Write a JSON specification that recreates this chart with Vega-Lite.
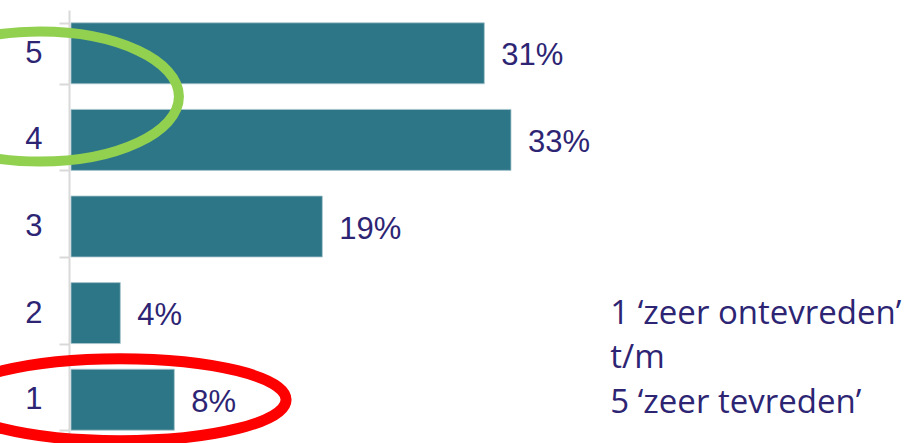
{
  "$schema": "https://vega.github.io/schema/vega-lite/v6.json",
  "width": 836,
  "height": 433,
  "autosize": {"type": "none"},
  "padding": {"left": 71, "top": 10, "right": 0, "bottom": 0},
  "background": "white",
  "config": {"view": {"stroke": null}, "font": "Liberation Sans"},
  "datasets": {
    "bars": [
      {"score": "5", "pct": 31.0, "label": "31%"},
      {"score": "4", "pct": 33.0, "label": "33%"},
      {"score": "3", "pct": 18.85, "label": "19%"},
      {"score": "2", "pct": 3.7, "label": "4%"},
      {"score": "1", "pct": 7.75, "label": "8%"}
    ],
    "marks": [
      {"name": "tevreden", "x": -2.33, "pos": 4.5},
      {"name": "ontevreden", "x": 3.68, "pos": 1.0}
    ],
    "legend": [
      {"line": "1 ‘zeer ontevreden’", "x": 40.45, "pos": 1.874},
      {"line": "t/m", "x": 40.45, "pos": 1.366},
      {"line": "5 ‘zeer tevreden’", "x": 40.45, "pos": 0.846}
    ]
  },
  "layer": [
    {
      "data": {"name": "bars"},
      "encoding": {
        "y": {
          "field": "score",
          "type": "nominal",
          "sort": ["5", "4", "3", "2", "1"],
          "scale": {"paddingInner": 0.296, "paddingOuter": 0.148},
          "axis": {
            "title": null,
            "offset": 2,
            "tickBand": "extent",
            "domainColor": "#D9D9D9",
            "domainWidth": 2,
            "tickColor": "#D9D9D9",
            "tickWidth": 2,
            "tickSize": 10,
            "labelPadding": 17,
            "labelFont": "Liberation Sans",
            "labelFontSize": 31,
            "labelColor": "#2D2573",
            "labelAngle": 0,
            "grid": false
          }
        },
        "x": {
          "field": "pct",
          "type": "quantitative",
          "scale": {"domain": [0, 62.7], "nice": false},
          "axis": null
        }
      },
      "layer": [
        {"mark": {"type": "bar", "color": "#2D7688", "stroke": "#A9C6CE", "strokeWidth": 0.8}},
        {
          "mark": {"type": "text", "align": "left", "baseline": "middle", "dx": 17, "dy": 3, "fontSize": 31, "color": "#2D2573", "font": "Liberation Sans"},
          "encoding": {"text": {"field": "label"}}
        }
      ]
    },
    {
      "encoding": {
        "x": {
          "field": "x",
          "type": "quantitative",
          "scale": {"domain": [0, 62.7], "nice": false},
          "axis": null
        },
        "y": {
          "field": "pos",
          "type": "quantitative",
          "scale": {"domain": [0.5, 5.5], "nice": false, "zero": false},
          "axis": null
        }
      },
      "layer": [
        {
          "data": {"name": "marks"},
          "transform": [{"filter": "datum.name === 'tevreden'"}],
          "mark": {"type": "point", "shape": "M-1,0A1,0.4676 0 1,1 1,0A1,0.4676 0 1,1 -1,0Z", "size": 77284, "filled": false, "stroke": "#92D050", "strokeWidth": 10, "opacity": 1}
        },
        {
          "data": {"name": "marks"},
          "transform": [{"filter": "datum.name === 'ontevreden'"}],
          "mark": {"type": "point", "shape": "M-1,0A1,0.247 0 1,1 1,0A1,0.247 0 1,1 -1,0Z", "size": 110224, "filled": false, "stroke": "#FF0000", "strokeWidth": 11, "opacity": 1}
        },
        {
          "data": {"name": "legend"},
          "mark": {"type": "text", "align": "left", "baseline": "alphabetic", "font": "Open Sans", "fontSize": 33, "color": "#2D2573"},
          "encoding": {"text": {"field": "line"}}
        }
      ]
    }
  ],
  "resolve": {"scale": {"y": "independent"}}
}
